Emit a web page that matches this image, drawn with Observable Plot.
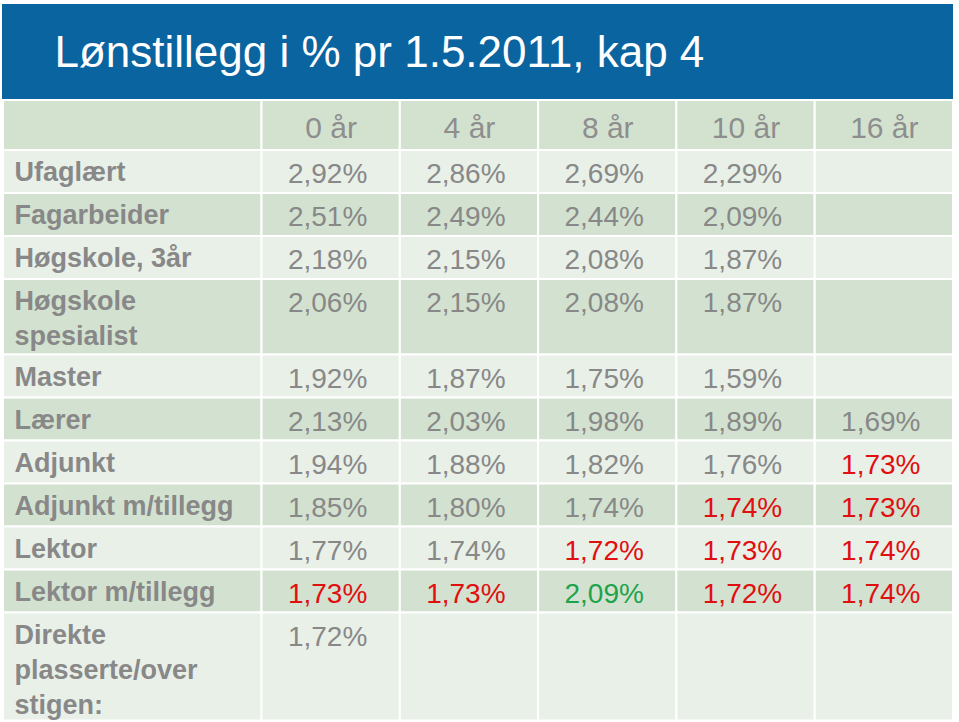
<!DOCTYPE html>
<html><head><meta charset="utf-8">
<script src="https://cdn.jsdelivr.net/npm/d3@7"></script>
<script src="https://cdn.jsdelivr.net/npm/@observablehq/plot@0.6"></script>
<style>body{margin:0;background:#fff;} svg{display:block}</style>
</head><body><div id="chart"></div>
<script>
const title = "Lønstillegg i % pr 1.5.2011, kap 4";
const years = ["0 år", "4 år", "8 år", "10 år", "16 år"];
const categories = ["Ufaglært", "Fagarbeider", "Høgskole, 3år", "Høgskole\nspesialist", "Master", "Lærer",
  "Adjunkt", "Adjunkt m/tillegg", "Lektor", "Lektor m/tillegg", "Direkte\nplasserte/over\nstigen:"];
const v0  = [2.92, 2.51, 2.18, 2.06, 1.92, 2.13, 1.94, 1.85, 1.77, 1.73, 1.72];
const v4  = [2.86, 2.49, 2.15, 2.15, 1.87, 2.03, 1.88, 1.80, 1.74, 1.73, null];
const v8  = [2.69, 2.44, 2.08, 2.08, 1.75, 1.98, 1.82, 1.74, 1.72, 2.09, null];
const v10 = [2.29, 2.09, 1.87, 1.87, 1.59, 1.89, 1.76, 1.74, 1.73, 1.72, null];
const v16 = [null, null, null, null, null, 1.69, 1.73, 1.73, 1.74, 1.74, null];
// highlight codes: "" normal, "r" red, "g" green
const h0  = ["", "", "", "", "", "", "", "", "", "r", ""];
const h4  = ["", "", "", "", "", "", "", "", "", "r", ""];
const h8  = ["", "", "", "", "", "", "", "", "r", "g", ""];
const h10 = ["", "", "", "", "", "", "", "r", "r", "r", ""];
const h16 = ["", "", "", "", "", "", "r", "r", "r", "r", ""];

const series = [v0, v4, v8, v10, v16];
const highlights = [h0, h4, h8, h10, h16];

// ---- layout / style ----
const W = 959, H = 722;
const FONT = "Liberation Sans, Arial, sans-serif";
const BLUE = "#0a64a0", HEAD = "#d3e2cf", LIGHT = "#e9f0e8", DARK = "#d3e2d0";
const GRAY = "#888888", RED = "#e01010", GREEN = "#1ea34c";
const hlColor = {"": GRAY, "r": RED, "g": GREEN};
const bar = {x1: 2, x2: 953, y1: 4, y2: 99};
const tableLeft = 3, labelRight = 261.5, colW = 138.3;
const headTop = 100, headBottom = 150, rowBase = 43, rowExtra = 32.5;

const colX1 = years.map((_, j) => labelRight + j * colW);
const colX2 = years.map((_, j) => labelRight + (j + 1) * colW);
const rowTop = [];
let acc = headBottom;
categories.forEach((c, i) => {
  rowTop.push(acc);
  acc += rowBase + rowExtra * (c.split("\n").length - 1);
});
const rowBottom = categories.map((_, i) => i + 1 < categories.length ? rowTop[i + 1] : acc);

// cells
const cells = [];
cells.push({x1: tableLeft, x2: labelRight, y1: headTop, y2: headBottom, fill: HEAD});
years.forEach((_, j) => cells.push({x1: colX1[j], x2: colX2[j], y1: headTop, y2: headBottom, fill: HEAD}));
categories.forEach((c, i) => {
  const fill = i % 2 === 0 ? LIGHT : DARK;
  cells.push({x1: tableLeft, x2: labelRight, y1: rowTop[i], y2: rowBottom[i], fill});
  years.forEach((_, j) => cells.push({x1: colX1[j], x2: colX2[j], y1: rowTop[i], y2: rowBottom[i], fill}));
});

const labels = categories.map((c, i) => ({text: c, x: tableLeft, y: rowTop[i]}));
const heads = years.map((yr, j) => ({text: yr, x: (colX1[j] + colX2[j]) / 2, y: headTop}));
const vals = [];
series.forEach((s, j) => s.forEach((v, i) => {
  if (v == null) return;
  vals.push({text: v.toFixed(2).replace(".", ",") + "%", x: colX2[j], y: rowTop[i], fill: hlColor[highlights[j][i]]});
}));

const chart = Plot.plot({
  width: W, height: H,
  marginTop: 0, marginRight: 0, marginBottom: 0, marginLeft: 0,
  x: {type: "linear", domain: [0, W], range: [0, W], axis: null},
  y: {type: "linear", domain: [0, H], range: [0, H], axis: null},
  color: {type: "identity"},
  style: {fontFamily: FONT, background: "#ffffff"},
  marks: [
    Plot.rect([bar], {x1: "x1", x2: "x2", y1: "y1", y2: "y2", fill: BLUE}),
    Plot.text([title], {x: [bar.x1], y: [bar.y1], text: d => d, textAnchor: "start", lineAnchor: "top",
      dx: 52, dy: 31.5, fill: "#ffffff", fontSize: 44}),
    Plot.rect(cells, {x1: "x1", x2: "x2", y1: "y1", y2: "y2", fill: "fill", stroke: "#ffffff", strokeWidth: 2}),
    Plot.text(heads, {x: "x", y: "y", text: "text", textAnchor: "middle", lineAnchor: "top",
      dy: 16, fill: "#8e8e8e", fontSize: 30}),
    Plot.text(labels, {x: "x", y: "y", text: "text", textAnchor: "start", lineAnchor: "top",
      dx: 11, dy: 6, lineHeight: 1.296, fill: GRAY, fontSize: 27, fontWeight: "bold"}),
    Plot.text(vals, {x: "x", y: "y", text: "text", textAnchor: "end", lineAnchor: "top",
      dx: -33, dy: 13, fill: "fill", fontSize: 28})
  ]
});
document.getElementById("chart").appendChild(chart);
</script>
</body></html>
